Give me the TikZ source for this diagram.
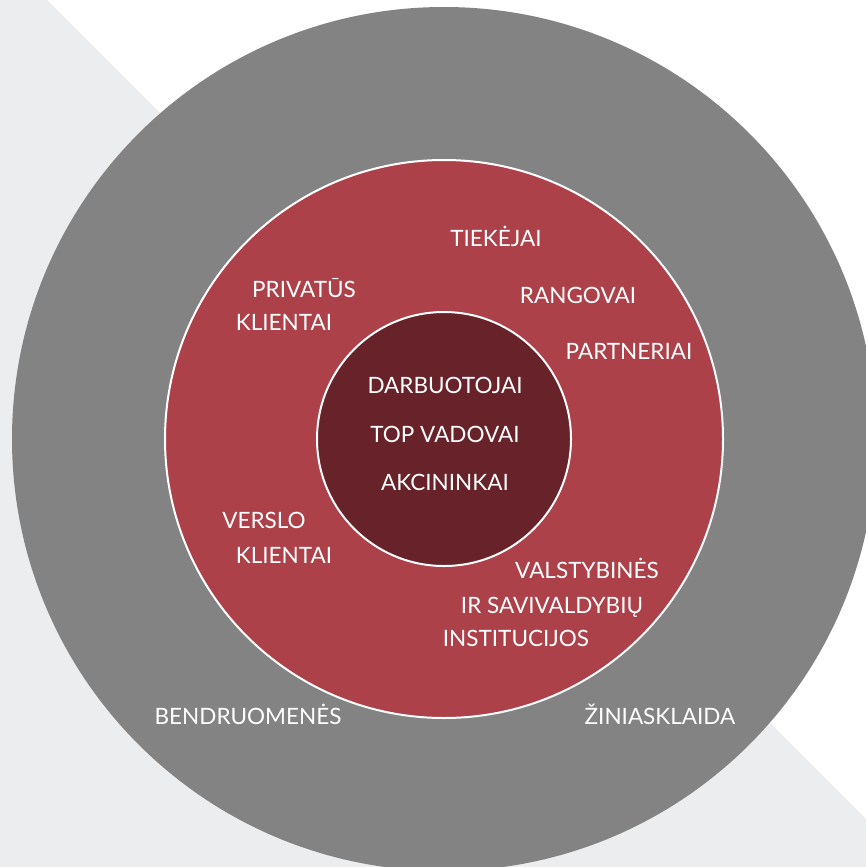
\documentclass[tikz,border=0pt]{standalone}
\usepackage{fontspec}
\setmainfont{Lato}
\definecolor{bandgrey}{HTML}{ECEDEF}
\definecolor{ringgrey}{HTML}{838383}
\definecolor{midred}{HTML}{AC414A}
\definecolor{corered}{HTML}{67222A}

\begin{document}
\begin{tikzpicture}[x=1pt, y=-1pt,
    ring/.style={circle, inner sep=0pt, outer sep=0pt},
    lbl/.style={text=white, anchor=base, inner sep=0pt,
      font=\fontsize{22.5}{25}\selectfont}]
  \clip (0,0) rectangle (866,867);
  \fill[white] (0,0) rectangle (866,867);
  \fill[bandgrey] (0,0) -- (47,0) -- (866,819) -- (866,867) -- (0,867) -- cycle;

  \coordinate (O) at (444,439);

  % three rings
  \node[ring, fill=ringgrey, minimum size=864pt] (outer) at (O) {};
  \node[ring, fill=midred, draw=white, line width=2pt, minimum size=558pt] (middle) at (O) {};
  \node[ring, fill=corered, draw=white, line width=2pt, minimum size=254pt] (core) at (O) {};

  % core
  \node[lbl] (darb) at (445,393) {DARBUOTOJAI};
  \node[lbl] (top) at (445,442) {TOP VADOVAI};
  \node[lbl] (akc) at (445,490) {AKCININKAI};

  % middle ring
  \node[lbl] (tiek) at (496,246) {TIEKĖJAI};
  \node[lbl] (rang) at (578,303) {RANGOVAI};
  \node[lbl] (part) at (629,359) {PARTNERIAI};
  \node[lbl] (priv) at (304,297) {PRIVATŪS};
  \node[lbl] (privk) at (284,330) {KLIENTAI};
  \node[lbl] (vers) at (264,528) {VERSLO};
  \node[lbl] (versk) at (284,563) {KLIENTAI};
  \node[lbl] (vals) at (587,578) {VALSTYBINĖS};
  \node[lbl] (savi) at (552,613) {IR SAVIVALDYBIŲ};
  \node[lbl] (inst) at (516,646) {INSTITUCIJOS};

  % outer ring
  \node[lbl] (bend) at (248,724) {BENDRUOMENĖS};
  \node[lbl] (zin) at (660,724) {ŽINIASKLAIDA};
\end{tikzpicture}
\end{document}
